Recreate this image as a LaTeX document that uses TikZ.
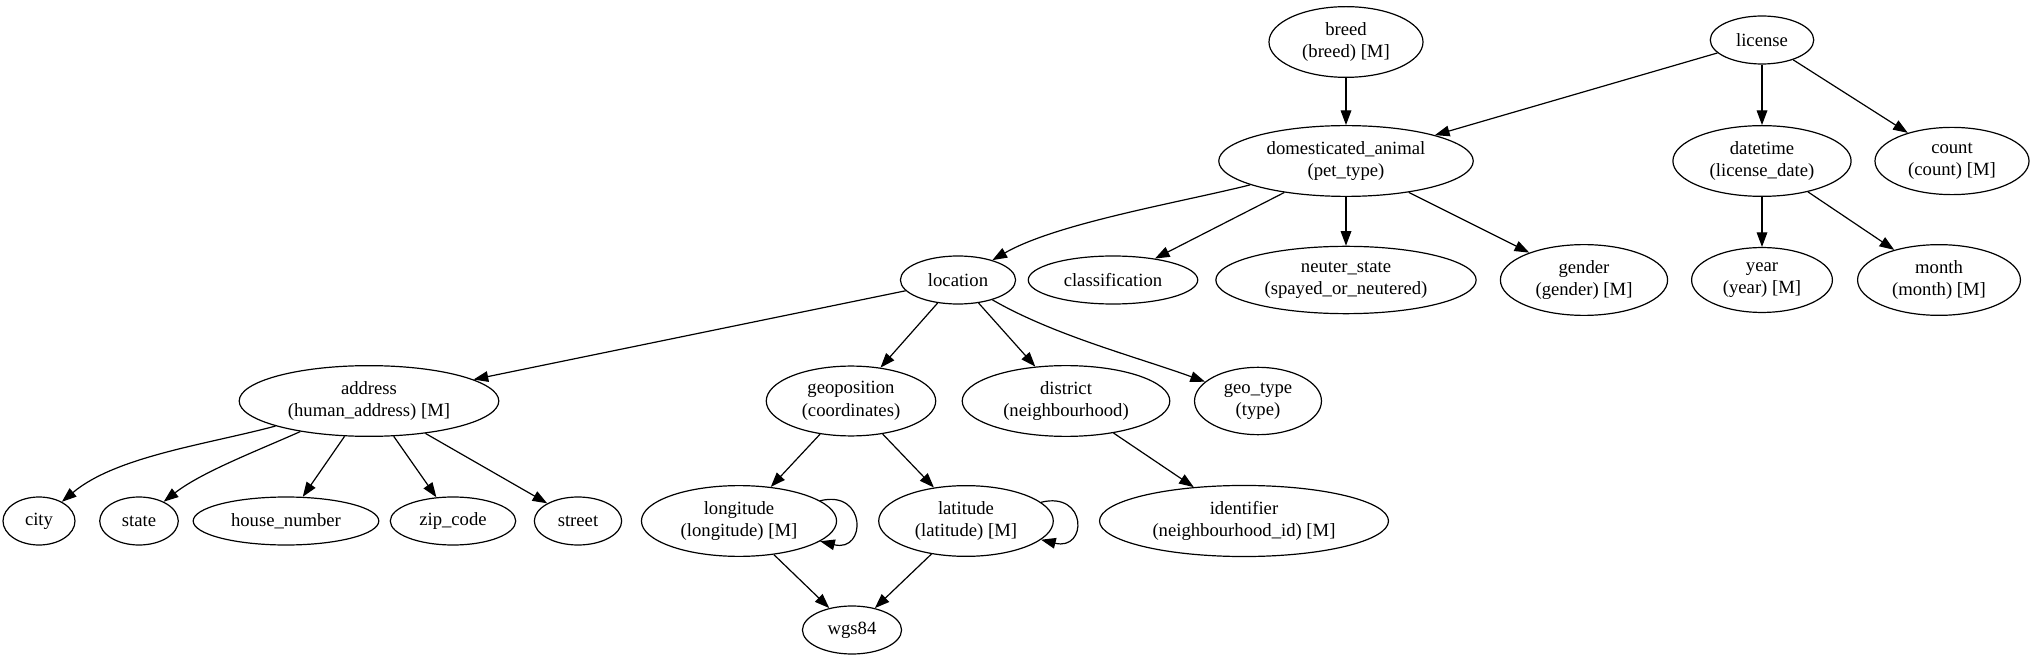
\documentclass[tikz,border=0pt]{standalone}
\usepackage{fontspec}
\setmainfont{Liberation Serif}
\usetikzlibrary{arrows.meta,shapes.geometric,positioning}

\begin{document}
\begin{tikzpicture}[x=0.75pt, y=-0.75pt,
    attr/.style={draw, ellipse, line width=0.9pt, minimum width=54pt, minimum height=36pt, inner xsep=8pt, inner ysep=4pt, align=center, font=\fontsize{14}{16.8}\selectfont},
    arr/.style={-{Triangle[length=11pt, width=8pt]}, line width=0.9pt}
]
\useasboundingbox (0,0) rectangle (2036,659);

% top rows
\node[attr] (breed) at (1346,42) {breed\\(breed) [M]};
\node[attr] (lic) at (1762,40) {license};
\node[attr] (dom) at (1346,161) {domesticated\_animal\\(pet\_type)};
\node[attr] (dt) at (1762,161) {datetime\\(license\_date)};
\node[attr] (cnt) at (1952,161) {count\\(count) [M]};
\node[attr] (loc) at (958,280) {location};
\node[attr] (cls) at (1113,280) {classification};
\node[attr] (neut) at (1346,280) {neuter\_state\\(spayed\_or\_neutered)};
\node[attr] (gen) at (1584,280) {gender\\(gender) [M]};
\node[attr] (yr) at (1762,280) {year\\(year) [M]};
\node[attr] (mon) at (1939,280) {month\\(month) [M]};

% location subtree
\node[attr] (addr) at (369,401) {address\\(human\_address) [M]};
\node[attr] (geo) at (851,401) {geoposition\\(coordinates)};
\node[attr] (dist) at (1066,401) {district\\(neighbourhood)};
\node[attr] (gtype) at (1258,401) {geo\_type\\(type)};
\node[attr] (city) at (39,521) {city};
\node[attr] (state) at (139,521) {state};
\node[attr] (house) at (286,521) {house\_number};
\node[attr] (zip) at (453,521) {zip\_code};
\node[attr] (street) at (578,521) {street};
\node[attr] (lon) at (739,521) {longitude\\(longitude) [M]};
\node[attr] (lat) at (966,521) {latitude\\(latitude) [M]};
\node[attr] (ident) at (1244,521) {identifier\\(neighbourhood\_id) [M]};
\node[attr] (wgs) at (852,630) {wgs84};

\draw[arr] (breed) -- (dom);
\draw[arr] (lic) -- (dom);
\draw[arr] (lic) -- (dt);
\draw[arr] (lic) -- (cnt);
\draw[arr] (dom) to[out=194, in=30, looseness=0.7] (loc);
\draw[arr] (dom) -- (cls);
\draw[arr] (dom) -- (neut);
\draw[arr] (dom) -- (gen);
\draw[arr] (dt) -- (yr);
\draw[arr] (dt) -- (mon);

\draw[arr] (loc) -- (addr);
\draw[arr] (loc) -- (geo);
\draw[arr] (loc) -- (dist);
\draw[arr] (loc) to[out=-30, in=160, looseness=0.8] (gtype);
\draw[arr] (addr) to[out=195, in=40, looseness=0.8] (city);
\draw[arr] (addr) to[out=204, in=38, looseness=0.8] (state);
\draw[arr] (addr) -- (house);
\draw[arr] (addr) -- (zip);
\draw[arr] (addr) -- (street);
\draw[arr] (geo) -- (lon);
\draw[arr] (geo) -- (lat);
\draw[arr] (dist) -- (ident);
\draw[arr] (lon) to[out=14, in=-14, distance=36pt] (lon);
\draw[arr] (lat) to[out=14, in=-14, distance=36pt] (lat);
\draw[arr] (lon) -- (wgs);
\draw[arr] (lat) -- (wgs);
\end{tikzpicture}
\end{document}
